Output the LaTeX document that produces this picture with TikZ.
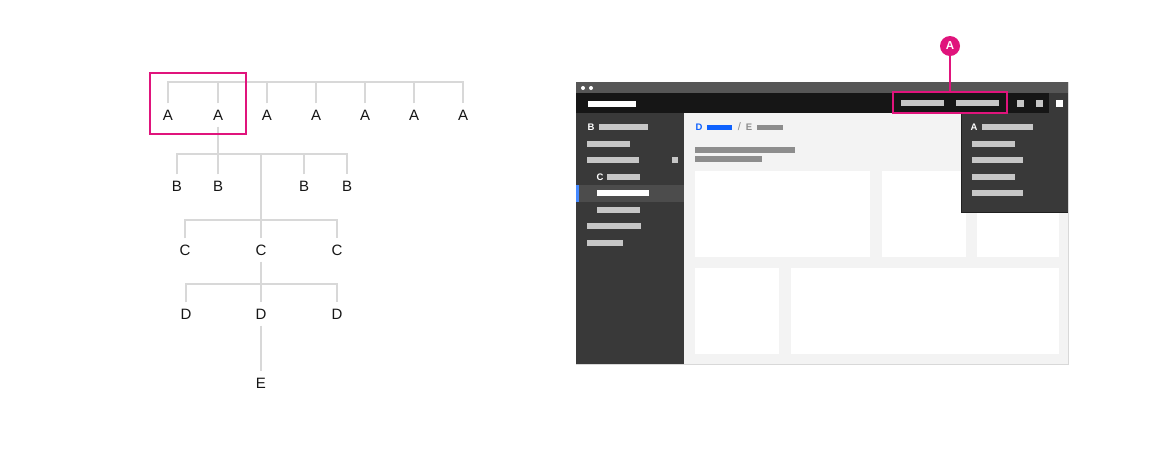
\documentclass[tikz,border=0pt]{standalone}
\usepackage{fontspec}
\setmainfont{Liberation Sans}
\definecolor{treegray}{HTML}{D8D8D8}
\definecolor{ink}{HTML}{161616}
\definecolor{hot}{HTML}{E0147C}
\definecolor{titlec}{HTML}{565656}
\definecolor{headc}{HTML}{161616}
\definecolor{sidec}{HTML}{393939}
\definecolor{selc}{HTML}{4C4C4C}
\definecolor{barc}{HTML}{C6C6C6}
\definecolor{contc}{HTML}{F3F3F3}
\definecolor{midgray}{HTML}{8D8D8D}
\definecolor{bluec}{HTML}{0F62FE}
\definecolor{lblue}{HTML}{4589FF}
\newcommand\mbar[4]{\fill[#4] (#1,#3-3) rectangle (#2,#3+3);}
\begin{document}
\begin{tikzpicture}[x=1pt,y=-1pt,
  tree/.style={draw=treegray, line width=2pt},
  lbl/.style={font=\fontsize{15}{15}\selectfont, text=ink, inner xsep=0pt, inner ysep=6pt, text height=11pt, text depth=0pt},
  mlet/.style={font=\bfseries\fontsize{9.5}{9.5}\selectfont, inner sep=0pt},
  hotbox/.style={draw=hot, line width=2pt, inner sep=0pt, fill=none}]
\useasboundingbox (0,0) rectangle (1152,475);
\fill[white] (0,0) rectangle (1152,475);

% ---------------- tree ----------------
\node[lbl] (a1) at (168,115) {A};
\node[lbl] (a2) at (218,115) {A};
\node[lbl] (a3) at (267,115) {A};
\node[lbl] (a4) at (316,115) {A};
\node[lbl] (a5) at (365,115) {A};
\node[lbl] (a6) at (414,115) {A};
\node[lbl] (a7) at (463,115) {A};
\node[lbl] (b1) at (177,186) {B};
\node[lbl] (b2) at (218,186) {B};
\node[lbl] (b3) at (304,186) {B};
\node[lbl] (b4) at (347,186) {B};
\node[lbl] (c1) at (185,250) {C};
\node[lbl] (c2) at (261,250) {C};
\node[lbl] (c3) at (337,250) {C};
\node[lbl] (d1) at (186,314) {D};
\node[lbl] (d2) at (261,314) {D};
\node[lbl] (d3) at (337,314) {D};
\node[lbl] (e) at (261,383) {E};
\coordinate (abar) at (0,82);
\coordinate (bbar) at (0,154);
\coordinate (cbar) at (0,220);
\coordinate (dbar) at (0,284);
\draw[tree] (a1.north) -- (a1.north|-abar) -- (a7.north|-abar) -- (a7.north);
\foreach \n in {a2,a3,a4,a5,a6} \draw[tree] (\n.north) -- (\n.north|-abar);
\draw[tree] (a2.south) -- (a2.south|-bbar);
\draw[tree] (b1.north) -- (b1.north|-bbar) -- (b4.north|-bbar) -- (b4.north);
\foreach \n in {b2,b3} \draw[tree] (\n.north) -- (\n.north|-bbar);
\draw[tree] (c2.north|-bbar) -- (c2.north);
\draw[tree] (c1.north) -- (c1.north|-cbar) -- (c3.north|-cbar) -- (c3.north);
\draw[tree] (c2.south) -- (d2.north);
\draw[tree] (d1.north) -- (d1.north|-dbar) -- (d3.north|-dbar) -- (d3.north);
\draw[tree] (d2.south) -- (e.north);
\node[hotbox, minimum width=96pt, minimum height=61pt] (abox) at (198,103.5) {};

% ---------------- screen mock-up ----------------
\fill[contc] (576,82) rectangle (1068,364);
\draw[treegray, line width=0.8pt] (576,82) rectangle (1068,364);
\fill[titlec] (576,82) rectangle (1068,93);
\fill[white] (583,88) circle (2);
\fill[white] (591,88) circle (2);
\fill[headc] (576,93) rectangle (1068,113);
\fill[sidec] (1049,93) rectangle (1068,113);
\fill[white] (588,100.5) rectangle (636,106.5);
% header items
\mbar{901}{944}{103}{barc}
\mbar{956}{999}{103}{barc}
\fill[barc] (1017,100) rectangle (1024,107);
\fill[barc] (1036,100) rectangle (1043,107);
\fill[white] (1056,100) rectangle (1063,107);
% sidebar
\fill[sidec] (576,113) rectangle (684,364);
\node[mlet, text=white] (sb) at (591,127) {B};
\mbar{599}{648}{127}{barc}
\mbar{587}{630}{144}{barc}
\mbar{587}{639}{160}{barc}
\fill[barc] (672,157) rectangle (678,163);
\node[mlet, text=white] (sc) at (600,177) {C};
\mbar{607}{640}{177}{barc}
\fill[selc] (576,185) rectangle (684,202);
\fill[lblue] (576,185) rectangle (579,202);
\mbar{597}{649}{193}{white}
\mbar{597}{640}{210}{barc}
\mbar{587}{641}{226}{barc}
\mbar{587}{623}{243}{barc}
% content
\node[mlet, text=bluec] (cd) at (699,127) {D};
\fill[bluec] (707,124.5) rectangle (732,130);
\node[font=\fontsize{11}{11}\selectfont, text=midgray, inner sep=0pt] (slash) at (739.5,127) {/};
\node[mlet, text=midgray] (ce) at (749,127) {E};
\fill[midgray] (757,124.5) rectangle (783,130);
\mbar{695}{795}{150}{midgray}
\mbar{695}{762}{159}{midgray}
\fill[white] (695,171) rectangle (870,257);
\fill[white] (882,171) rectangle (966,257);
\fill[white] (977,171) rectangle (1059,257);
\fill[white] (695,268) rectangle (779,354);
\fill[white] (791,268) rectangle (1059,354);
% dropdown
\fill[sidec] (961,113) rectangle (1068,212);
\draw[headc!70!sidec, line width=0.8pt] (961,113) -- (961,212) -- (1068,212);
\node[mlet, text=white] (da) at (974,127) {A};
\mbar{982}{1033}{127}{barc}
\mbar{972}{1015}{144}{barc}
\mbar{972}{1023}{160}{barc}
\mbar{972}{1015}{177}{barc}
\mbar{972}{1023}{193}{barc}
% highlight + badge
\node[hotbox, minimum width=114pt, minimum height=21pt] (hbox) at (950,102.5) {};
\node[circle, fill=hot, minimum size=20pt, inner sep=0pt, text=white, font=\bfseries\fontsize{11.5}{11.5}\selectfont] (badge) at (950,46) {A};
\draw[hot, line width=2pt] (badge.south) -- (hbox.north);
\end{tikzpicture}
\end{document}
